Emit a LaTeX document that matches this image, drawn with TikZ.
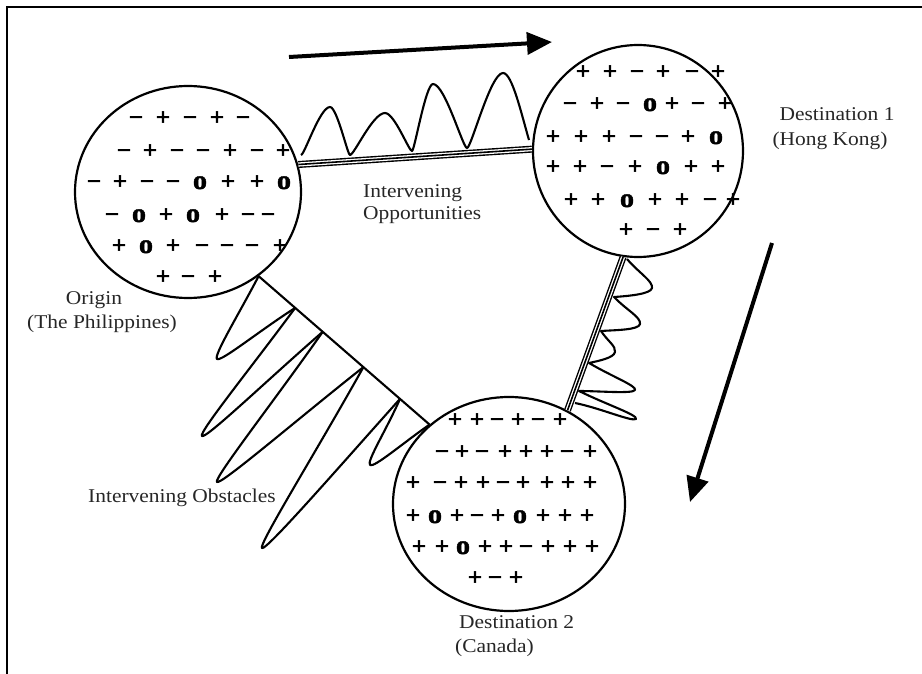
\documentclass[tikz,border=0pt]{standalone}
\usepackage{fontspec}
\setmainfont{Liberation Serif}[FakeStretch=1.1]
\newfontfamily\symfont{Liberation Serif Bold}[FakeBold=1.6,FakeStretch=1.05]
\newcommand\symo{{\fontsize{27}{27}\selectfont o}}
\usetikzlibrary{shapes.geometric,arrows.meta,calc}
\begin{document}
\begin{tikzpicture}[x=1pt,y=-1pt,
 sym/.style={font=\symfont\fontsize{24}{24}\selectfont, anchor=base, inner sep=0pt},
 lbl/.style={font=\fontsize{19.5}{24}\selectfont, text=black!85, inner sep=0pt},
 circ/.style={ellipse, draw, line width=2.2pt, inner sep=0pt},
 tripleline/.style={line width=7pt, postaction={draw,white,line width=4.2pt}, postaction={draw,black,line width=1.6pt}},
 wave/.style={line width=2.1pt, line join=round},
 bigarrow/.style={line width=4pt, -{Triangle[length=25pt,width=22pt]}}]
\useasboundingbox (0,0) rectangle (922,674);
% frame
\draw[line width=1.6pt] (7,674) -- (7,7) -- (922,7);
% circles
\node[circ, minimum width=226pt, minimum height=212pt] (o) at (188,192) {};
\node[circ, minimum width=210pt, minimum height=212pt] (d1) at (638,151) {};
\node[circ, minimum width=232pt, minimum height=214pt] (d2) at (509,504) {};
% intervening opportunities (triple lines)
\draw[tripleline] (o.14.5) -- (d1.179);
\draw[tripleline] (d1.262) -- (d2.58);
% waves on top line
\draw[wave] (301,155) .. controls (304.5,155) and (319.9,107) .. (330,107)
 .. controls (337,107) and (347.6,155) .. (350,155)
 .. controls (354.2,155) and (372.75,113) .. (385,113)
 .. controls (394.45,113) and (408.8,151) .. (412,151)
 .. controls (414.5,151) and (425.65,84) .. (433,84)
 .. controls (444.9,84) and (462.9,148) .. (467,148)
 .. controls (471.3,148) and (490.4,73) .. (503,73)
 .. controls (512.1,73) and (521.2,113.2) .. (529,140);
% waves on right line
\draw[wave] (627,259) .. controls (639.5,273.5) and (653,281) .. (652,288)
 .. controls (651,294) and (629,296) .. (614,297)
 .. controls (627,310.5) and (641,317) .. (640,324)
 .. controls (639,330) and (616,330) .. (601,331)
 .. controls (608,341.5) and (616,346) .. (615,352)
 .. controls (614,358) and (598,361) .. (589,363)
 .. controls (612,376.5) and (637,386) .. (635,390)
 .. controls (633,394) and (600,391) .. (579,391)
 .. controls (607.5,405) and (638,415) .. (636,419)
 .. controls (632,422) and (600,408) .. (575,403);
% intervening obstacles
\coordinate (A) at (o.310);
\coordinate (F) at (d2.135);
\coordinate (B) at ($(A)!0.214!(F)$);
\coordinate (C) at ($(A)!0.375!(F)$);
\coordinate (D) at ($(A)!0.613!(F)$);
\coordinate (E) at ($(A)!0.827!(F)$);
\draw[line width=2.1pt] (A) -- (F);
\draw[wave] (A) .. controls (239.6,312.8) and (213.2,355.8) .. (217,359)
 .. controls (220.8,362.2) and (259.9,330.4) .. (B);
\draw[wave] (B) .. controls (253.2,365) and (198.2,432.8) .. (202,436)
 .. controls (205.8,439.2) and (268.6,378.8) .. (C);
\draw[wave] (C) .. controls (275.3,399.5) and (213.2,478.8) .. (217,482)
 .. controls (220.8,485.2) and (297.9,418.8) .. (D);
\draw[wave] (D) .. controls (318.1,448.5) and (258.2,544.8) .. (262,548)
 .. controls (265.8,551.2) and (338.5,467.6) .. (E);
\draw[wave] (E) .. controls (387,428.7) and (366.2,461.8) .. (370,465)
 .. controls (373.8,468.2) and (403,443) .. (F);
% arrows
\coordinate (ta0) at (289,57); \coordinate (ta1) at (552,42);
\draw[bigarrow] (ta0) -- (ta1);
\coordinate (ra0) at (772,243); \coordinate (ra1) at (690,502);
\draw[bigarrow] (ra0) -- (ra1);
% symbols origin
\foreach \x/\s [count=\i] in {136/−,163/+,190/−,217/+,243/−} \node[sym] (oa\i) at (\x,125) {\s};
\foreach \x/\s [count=\i] in {124/−,150/+,177/−,203/−,230/+,257/−,283/+} \node[sym] (ob\i) at (\x,158) {\s};
\foreach \x/\s [count=\i] in {94/−,120/+,147/−,173/−,200/\symo,228/+,257/+,284/\symo} \node[sym] (oc\i) at (\x,189) {\s};
\foreach \x/\s [count=\i] in {112/−,139/\symo,166/+,193/\symo,222/+,248/−,268/−} \node[sym] (od\i) at (\x,222) {\s};
\foreach \x/\s [count=\i] in {119/+,146/\symo,173/+,202/−,227/−,252/−,280/+} \node[sym] (oe\i) at (\x,253) {\s};
\foreach \x/\s [count=\i] in {163/+,188/−,215/+} \node[sym] (of\i) at (\x,284) {\s};
% symbols destination 1
\foreach \x/\s [count=\i] in {583/+,610/+,637/−,663/+,692/−,718/+} \node[sym] (pa\i) at (\x,79) {\s};
\foreach \x/\s [count=\i] in {570/−,597/+,623/−,650/\symo,672/+,698/−,725/+} \node[sym] (pb\i) at (\x,111) {\s};
\foreach \x/\s [count=\i] in {553/+,581/+,609/+,636/−,662/−,688/+,716/\symo} \node[sym] (pc\i) at (\x,144) {\s};
\foreach \x/\s [count=\i] in {553/+,580/+,607/−,635/+,663/\symo,691/+,718/+} \node[sym] (pd\i) at (\x,174) {\s};
\foreach \x/\s [count=\i] in {571/+,598/+,627/\symo,655/+,682/+,710/−,733/+} \node[sym] (pe\i) at (\x,207) {\s};
\foreach \x/\s [count=\i] in {626/+,653/−,680/+} \node[sym] (pf\i) at (\x,237) {\s};
% symbols destination 2
\foreach \x/\s [count=\i] in {455/+,477/+,497/−,518/+,538/−,560/+} \node[sym] (qa\i) at (\x,427) {\s};
\foreach \x/\s [count=\i] in {442/−,462/+,482/−,505/+,526/+,547/+,567/−,590/+} \node[sym] (qb\i) at (\x,459) {\s};
\foreach \x/\s [count=\i] in {413/+,440/−,461/+,483/+,503/−,523/+,547/+,568/+,590/+} \node[sym] (qc\i) at (\x,490) {\s};
\foreach \x/\s [count=\i] in {413/+,435/\symo,457/+,477/−,498/+,520/\symo,543/+,565/+,587/+} \node[sym] (qd\i) at (\x,523) {\s};
\foreach \x/\s [count=\i] in {419/+,442/+,463/\symo,485/+,506/+,526/−,548/+,570/+,592/+} \node[sym] (qe\i) at (\x,554) {\s};
\foreach \x/\s [count=\i] in {475/+,495/−,516/+} \node[sym] (qf\i) at (\x,585) {\s};
% labels
\node[lbl, anchor=base] (lo1) at (94,304) {Origin};
\node[lbl, anchor=base] (lo2) at (102,328) {(The Philippines)};
\node[lbl, anchor=base west] (lio1) at (363,197) {Intervening};
\node[lbl, anchor=base west] (lio2) at (363,220) {Opportunities};
\node[lbl, anchor=base west] (lob) at (88,502) {Intervening Obstacles};
\node[lbl, anchor=base] (ld11) at (837,121) {Destination 1};
\node[lbl, anchor=base] (ld12) at (830,146) {(Hong Kong)};
\node[lbl, anchor=base west] (ld21) at (459,628) {Destination 2};
\node[lbl, anchor=base west] (ld22) at (455,652) {(Canada)};
\end{tikzpicture}
\end{document}
